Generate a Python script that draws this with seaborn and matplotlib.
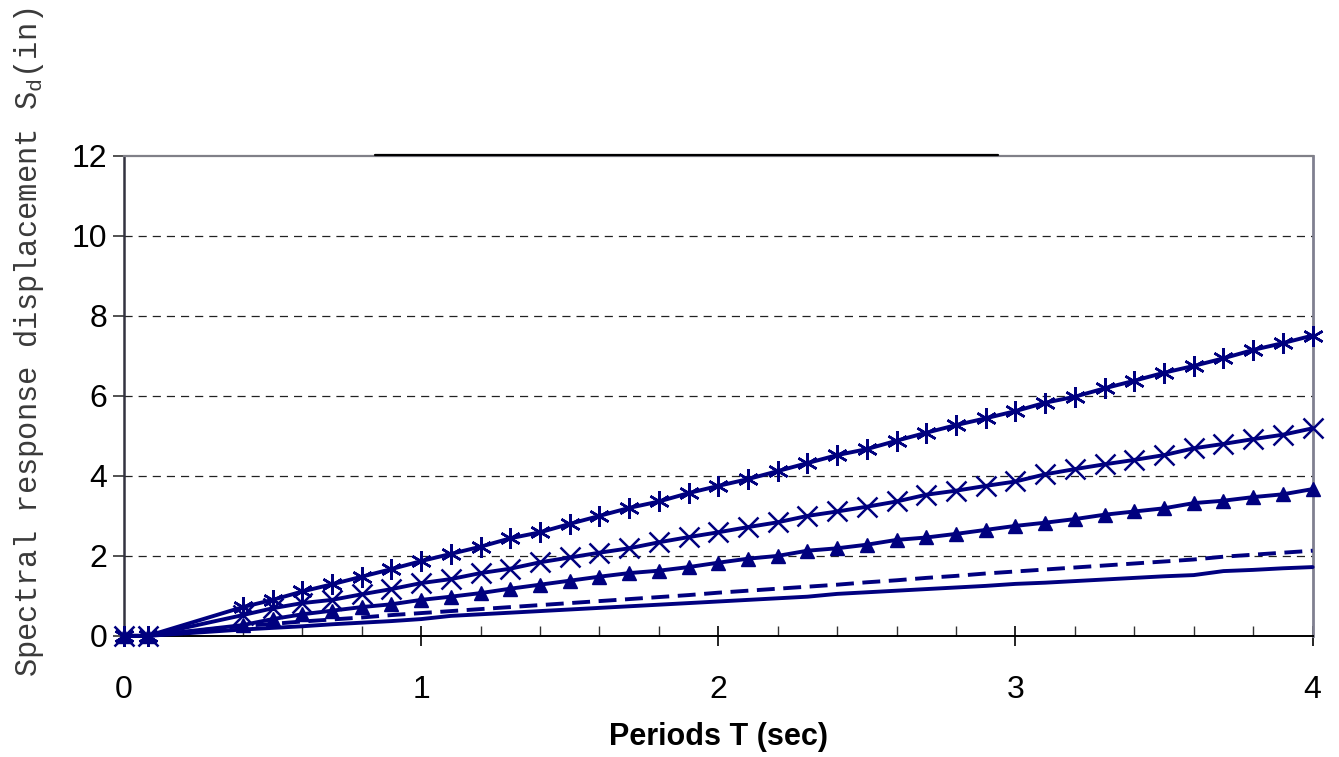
import matplotlib
matplotlib.use("Agg")
import matplotlib.pyplot as plt
import seaborn as sns
import pandas as pd
from matplotlib.ticker import MultipleLocator

# ---------------- data ----------------
periods = [0, 0.08, 0.4, 0.5, 0.6, 0.7, 0.8, 0.9, 1.0, 1.1, 1.2, 1.3, 1.4, 1.5,
           1.6, 1.7, 1.8, 1.9, 2.0, 2.1, 2.2, 2.3, 2.4, 2.5, 2.6, 2.7, 2.8, 2.9,
           3.0, 3.1, 3.2, 3.3, 3.4, 3.5, 3.6, 3.7, 3.8, 3.9, 4.0]

sd_star = [0, 0, 0.72, 0.90, 1.11, 1.29, 1.48, 1.67, 1.87, 2.05, 2.23, 2.44, 2.59,
           2.80, 3.00, 3.20, 3.36, 3.57, 3.75, 3.92, 4.12, 4.32, 4.52, 4.67, 4.88,
           5.08, 5.27, 5.44, 5.62, 5.83, 5.98, 6.19, 6.38, 6.58, 6.75, 6.94, 7.15,
           7.32, 7.51]

sd_cross = [0, 0, 0.52, 0.69, 0.82, 0.90, 1.04, 1.17, 1.32, 1.42, 1.57, 1.68, 1.84,
            1.96, 2.08, 2.19, 2.34, 2.47, 2.59, 2.72, 2.84, 3.00, 3.11, 3.23, 3.36,
            3.53, 3.63, 3.75, 3.86, 4.04, 4.17, 4.29, 4.40, 4.52, 4.69, 4.80, 4.92,
            5.03, 5.19]

sd_triangle = [0, 0, 0.27, 0.42, 0.54, 0.63, 0.72, 0.79, 0.90, 0.98, 1.07, 1.18, 1.28,
               1.38, 1.48, 1.57, 1.63, 1.72, 1.83, 1.93, 2.00, 2.13, 2.19, 2.28, 2.40,
               2.46, 2.55, 2.65, 2.75, 2.83, 2.92, 3.03, 3.11, 3.19, 3.32, 3.38, 3.47,
               3.54, 3.67]

sd_dashed = [0, 0, 0.25, 0.30, 0.36, 0.41, 0.46, 0.52, 0.57, 0.62, 0.67, 0.72, 0.77,
             0.82, 0.87, 0.92, 0.97, 1.02, 1.08, 1.13, 1.18, 1.23, 1.28, 1.34, 1.39,
             1.45, 1.50, 1.56, 1.61, 1.66, 1.71, 1.76, 1.81, 1.86, 1.91, 1.98, 2.03,
             2.08, 2.13]

sd_solid = [0, 0, 0.16, 0.20, 0.24, 0.29, 0.33, 0.37, 0.42, 0.50, 0.54, 0.58, 0.62,
            0.66, 0.70, 0.74, 0.78, 0.82, 0.86, 0.90, 0.94, 0.98, 1.05, 1.09, 1.13,
            1.17, 1.21, 1.25, 1.30, 1.33, 1.37, 1.41, 1.45, 1.49, 1.52, 1.62, 1.65,
            1.69, 1.72]

top_line_x = [0.845, 2.94]
top_line_y = [12.03, 12.03]

x_ticks = [0, 1, 2, 3, 4]
y_ticks = [0, 2, 4, 6, 8, 10, 12]

# ---------------- style ----------------
sns.set_theme(style="white")
plt.rcParams["font.family"] = ["Liberation Sans", "DejaVu Sans"]

NAVY = "#00007f"
LW = 2.8

fig = plt.figure(figsize=(13.39, 7.57), dpi=100)
ax = fig.add_axes([0.0926, 0.160, 0.8877, 0.634])

df = pd.DataFrame({"T": periods, "star": sd_star, "cross": sd_cross,
                   "tri": sd_triangle, "dash": sd_dashed, "solid": sd_solid})

common = dict(ax=ax, color=NAVY, sort=False, estimator=None,
              clip_on=False, zorder=5)


def finish(line, ls="-"):
    line.set_linewidth(LW)
    line.set_linestyle(ls)
    line.set_color(NAVY)
    line.set_markeredgecolor(NAVY)
    line.set_solid_joinstyle("round")


sns.lineplot(data=df, x="T", y="solid", **common)
finish(ax.lines[-1])
sns.lineplot(data=df, x="T", y="dash", **common)
finish(ax.lines[-1], (0, (4.6, 2.2)))
ax.lines[-1].set_dash_capstyle("butt")
sns.lineplot(data=df, x="T", y="tri", marker="^", markersize=10,
             markerfacecolor=NAVY, markeredgecolor=NAVY, markeredgewidth=1, **common)
finish(ax.lines[-1])
sns.lineplot(data=df, x="T", y="cross", marker="x", markersize=15,
             markeredgecolor=NAVY, markeredgewidth=1.8, **common)
finish(ax.lines[-1])
sns.lineplot(data=df, x="T", y="star", marker=(6, 2, 0), markersize=15,
             markeredgecolor=NAVY, markeredgewidth=1.8, **common)
finish(ax.lines[-1])

# stray line above the top border (present in the original)
ax.plot(top_line_x, top_line_y, color="black", linewidth=1.6, clip_on=False, zorder=6)

# axes range & ticks
ax.set_xlim(0, 4)
ax.set_ylim(0, 12)
ax.set_xticks(x_ticks)
ax.set_yticks(y_ticks)
ax.xaxis.set_minor_locator(MultipleLocator(0.2))
ax.tick_params(axis="x", which="major", direction="inout", length=15, width=1.2,
               color="black", labelsize=23, labelcolor="black", pad=21, bottom=True)
ax.tick_params(axis="x", which="minor", direction="in", length=7, width=1.0,
               color="#333333", bottom=True)
ax.tick_params(axis="y", which="major", direction="out", length=8, width=1.2,
               color="#333333", labelsize=23, labelcolor="black", pad=4, left=True)

# grid
for yv in y_ticks[1:-1]:
    ax.axhline(yv, color="#222222", linewidth=0.9, linestyle=(0, (6.5, 4.8)), zorder=1)

# spines
ax.spines["left"].set_color("#333340")
ax.spines["left"].set_linewidth(1.8)
ax.spines["bottom"].set_color("black")
ax.spines["bottom"].set_linewidth(1.4)
ax.spines["top"].set_color("#808088")
ax.spines["top"].set_linewidth(1.6)
ax.spines["right"].set_color("#808090")
ax.spines["right"].set_linewidth(2)
for s in ax.spines.values():
    s.set_visible(True)

ax.set_xlabel("Periods T (sec)", fontsize=22, fontweight="bold", color="black",
              labelpad=12)
ax.set_ylabel("")

fig.text(0.022, 0.548, r"Spectral response displacement S$_\mathregular{d}$(in)",
         rotation=90, ha="center", va="center", fontsize=22,
         family=["Liberation Mono", "DejaVu Sans Mono"], color="#3a3a3a")

fig.savefig("out.png", dpi=100)
